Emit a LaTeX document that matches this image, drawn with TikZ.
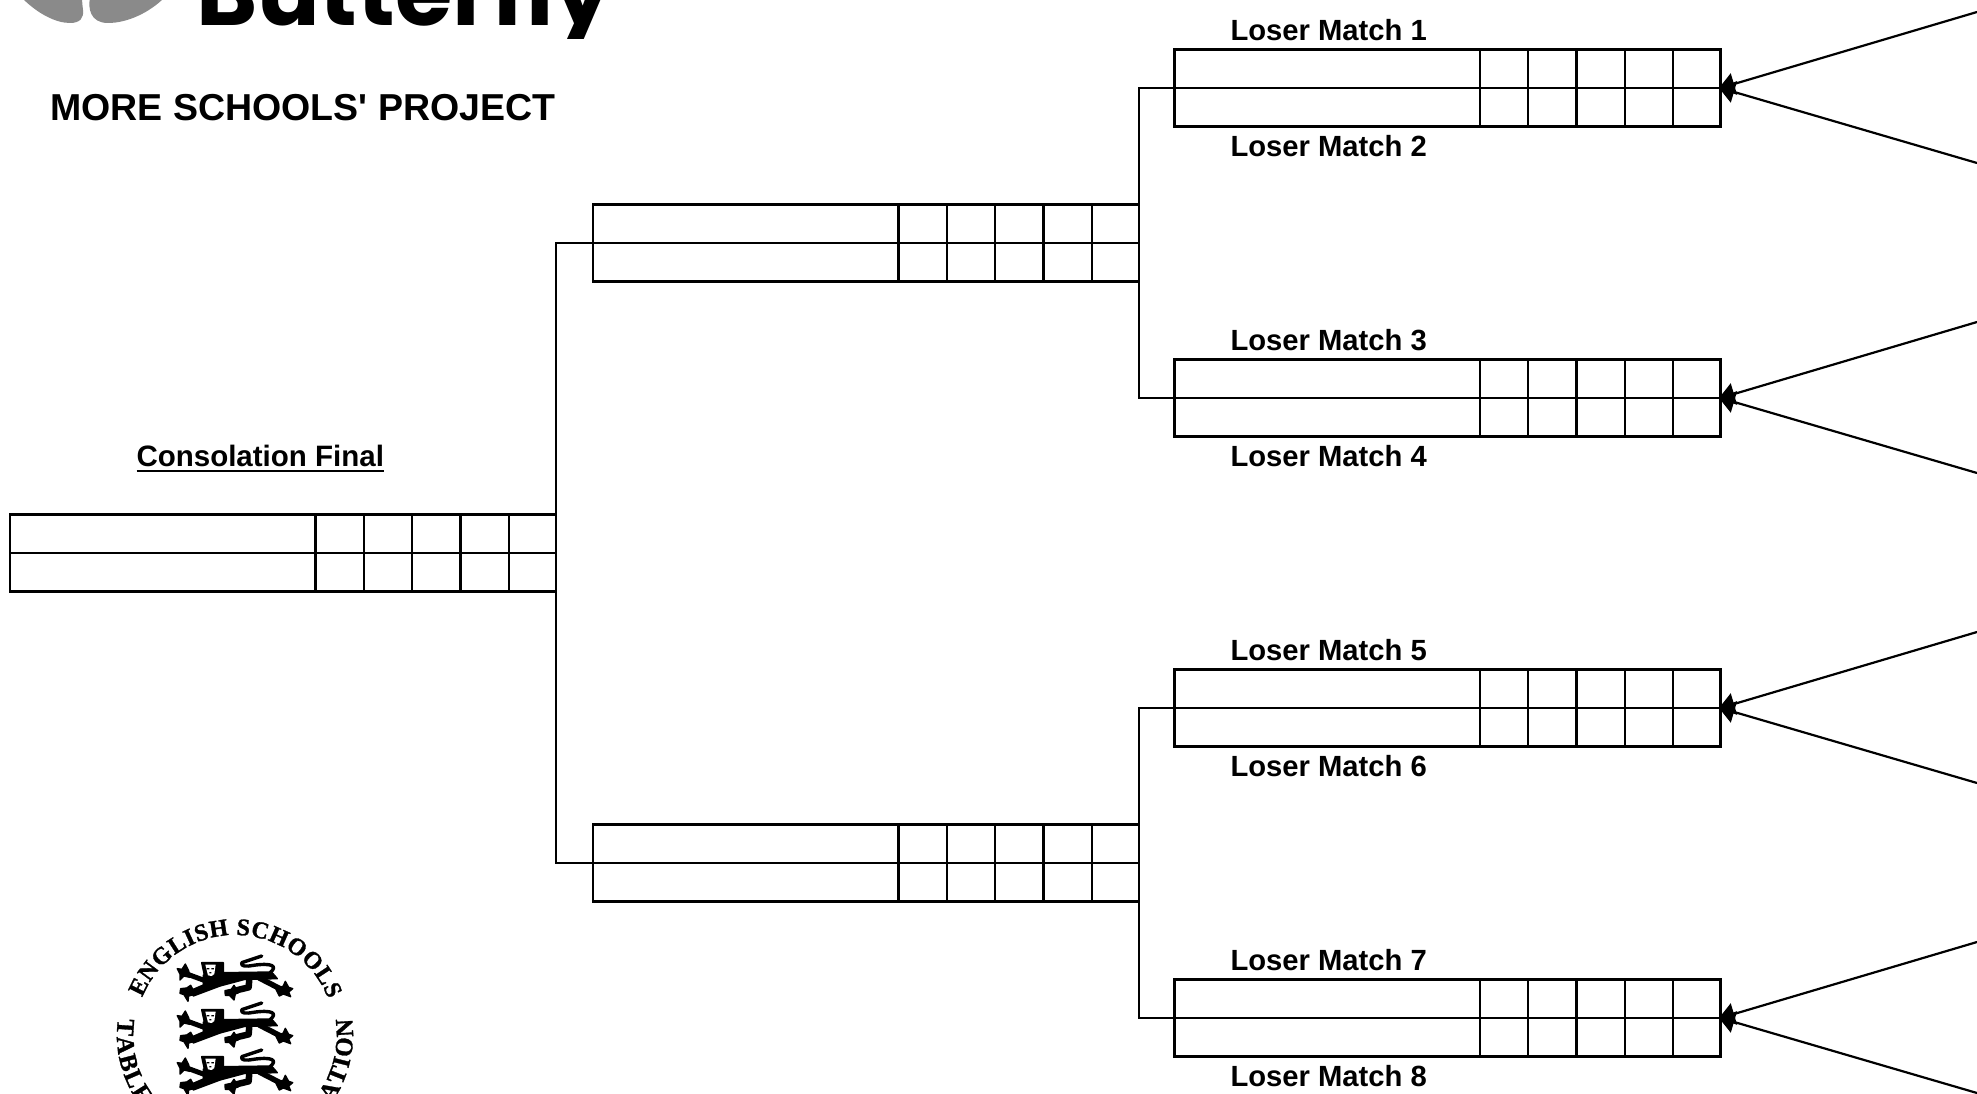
\documentclass[tikz,border=0pt]{standalone}
\usepackage{fontspec}
\setmainfont{Liberation Sans}
\newfontfamily\crestfamily{Liberation Serif}[BoldFeatures={FakeBold=1.2}]
\newfontfamily\logofamily{Poppins}
\usetikzlibrary{arrows.meta,decorations.text}
\newcommand{\cresttext}{\fontsize{24}{26}\selectfont\crestfamily\bfseries}
\newcommand{\cresttextb}{\fontsize{25}{27}\selectfont\crestfamily\bfseries}
\tikzset{
  x=1pt,y=-1pt,
  tablebox/.style={draw=black,line width=2.3pt,minimum width=546pt,minimum height=77pt,inner sep=0pt,outer sep=0pt,anchor=north west},
  gridline/.style={draw=black,line width=2.3pt},
  link/.style={draw=black,line width=2.3pt},
  feed/.style={draw=black,line width=2.2pt,shorten <=-2pt,{Triangle[length=16pt,width=22pt]}-},
  loser/.style={font=\fontsize{29.2}{32}\selectfont\bfseries,inner sep=0pt,outer sep=0pt,anchor=base west},
  wing/.style={fill=black!46,draw=none},
  lionpart/.style={fill=black,draw=black,line width=1.4pt,line join=round},
  lionstroke/.style={draw=black,line cap=round,line join=round},
}
\newcommand{\matchtable}[3]{%
  \node[tablebox] (#1) at (#2,#3) {};
  \draw[gridline] (#1.west) -- (#1.east);
  \foreach \k in {305.5,353.8,402.1,450.4,498.7}
    \draw[gridline] ([xshift=\k pt]#1.north west) -- ([xshift=\k pt]#1.south west);
}
\newcommand{\lion}[1]{%
  \begin{scope}[shift={(170,#1)},x=0.3333pt,y=-0.3333pt]
    % body
    \path[lionpart] (100,75) -- (155,68) -- (305,66) -- (322,86) -- (225,88) -- (150,108) -- (70,138) -- (60,122) -- (100,105) -- cycle;
    % head
    \path[lionpart] (95,38) -- (160,38) -- (160,78) -- (105,84) -- cycle;
    \path[fill=white] (106,44) -- (137,44) -- (133,72) -- (125,78) -- (114,76) -- cycle;
    \path[fill=black] (110,54) rectangle (118,58) (124,54) rectangle (132,58) (118,66) rectangle (124,70);
    % upper fore leg and paw
    \draw[lionstroke,line width=5pt] (40,68) -- (105,92);
    \path[lionpart] (22,56) -- (36,58) -- (46,42) -- (56,62) -- (60,82) -- (42,78) -- (30,90) -- (30,72) -- cycle;
    % lower fore leg paw
    \path[lionpart] (32,116) -- (50,114) -- (62,106) -- (76,132) -- (56,138) -- (54,154) -- (42,134) -- (30,130) -- cycle;
    % tail
    \draw[lionstroke,line width=3.4pt] (300,68) .. controls (325,48) and (305,38) .. (250,46) .. controls (228,50) and (212,50) .. (215,38) -- (275,18);
    % hind leg
    \draw[lionstroke,line width=6.5pt] (238,86) -- (236,112) -- (195,122);
    \path[lionpart] (165,122) -- (184,118) -- (192,106) -- (206,128) -- (196,132) -- (192,150) -- (178,136) -- (166,136) -- cycle;
    % other hind leg
    \draw[lionstroke,line width=5.5pt] (268,84) -- (330,116);
    \path[lionpart] (318,118) -- (340,108) -- (346,94) -- (356,112) -- (368,116) -- (356,126) -- (362,140) -- (340,132) -- (328,138) -- cycle;
  \end{scope}
}
\begin{document}
\begin{tikzpicture}
\useasboundingbox (0,0) rectangle (1977,1094);
\clip (0,0) rectangle (1977,1094);

% logo
\path[wing] (22,-2) .. controls (38,14) and (56,23) .. (70,23) .. controls (80,23) and (84,18) .. (83,10) .. controls (82.5,5) and (82,2) .. (82,-2) -- cycle;
\path[wing] (90,-2) .. controls (88,8) and (90,23) .. (108,23) .. controls (128,23) and (150,12) .. (164,-2) -- cycle;
\begin{scope}
  \clip (150,-5) rectangle (640,39);
  \node[inner sep=0pt,outer sep=0pt,anchor=base west,font=\fontsize{93}{95}\selectfont\logofamily\bfseries] (logotext) at (196,26) {Butterfly};
\end{scope}
\node[inner sep=0pt,outer sep=0pt,anchor=base west,font=\fontsize{37.5}{40}\selectfont\bfseries] (title) at (50.5,121) {MORE SCHOOLS\textquotesingle{} PROJECT};

% consolation final
\node[inner sep=0pt,outer sep=0pt,anchor=base west,font=\fontsize{29.5}{32}\selectfont\bfseries] (consol) at (136.5,466) {Consolation Final};
\draw[line width=2.6pt] ([yshift=-5pt]consol.base west) -- ([yshift=-5pt]consol.base east);

% tables
\matchtable{a}{10}{514.5}
\matchtable{b1}{593}{204.5}
\matchtable{b2}{593}{824.5}
\matchtable{c1}{1174.5}{49.5}
\matchtable{c2}{1174.5}{359.5}
\matchtable{c3}{1174.5}{669.5}
\matchtable{c4}{1174.5}{979.5}

% brackets
\draw[link] (b1.west) -| (a.east) |- (b2.west);
\draw[link] (c1.west) -| (b1.east) |- (c2.west);
\draw[link] (c3.west) -| (b2.east) |- (c4.west);

% feeders
\coordinate (f1u) at (1977,12);  \coordinate (f1d) at (1977,163);
\coordinate (f2u) at (1977,322); \coordinate (f2d) at (1977,473);
\coordinate (f3u) at (1977,632); \coordinate (f3d) at (1977,783);
\coordinate (f4u) at (1977,942); \coordinate (f4d) at (1977,1093);
\foreach \n in {1,2,3,4} {
  \draw[feed] (c\n.east) -- (f\n u);
  \draw[feed] (c\n.east) -- (f\n d);
}

% labels
\node[loser] (lm1) at (1230.5,40.5) {Loser Match 1};
\node[loser] (lm2) at (1230.5,156.5) {Loser Match 2};
\node[loser] (lm3) at (1230.5,350.5) {Loser Match 3};
\node[loser] (lm4) at (1230.5,466.5) {Loser Match 4};
\node[loser] (lm5) at (1230.5,660.5) {Loser Match 5};
\node[loser] (lm6) at (1230.5,776.5) {Loser Match 6};
\node[loser] (lm7) at (1230.5,970.5) {Loser Match 7};
\node[loser] (lm8) at (1230.5,1086.5) {Loser Match 8};

% crest
\begin{scope}[shift={(235,1035)},x=1pt,y=1pt]
  \path[decorate,decoration={text along path,text align={fit to path},text={|\cresttext|ENGLISH SCHOOLS}}]
    (158:100) arc[start angle=158,end angle=21,radius=100];
  \path[decorate,decoration={text along path,text align={fit to path},text={|\cresttextb|TABLE TENNIS ASSOCIATION}}]
    (172:118) arc[start angle=172,end angle=368,radius=118];
\end{scope}
\lion{950}
\lion{997}
\lion{1044}
\end{tikzpicture}
\end{document}
